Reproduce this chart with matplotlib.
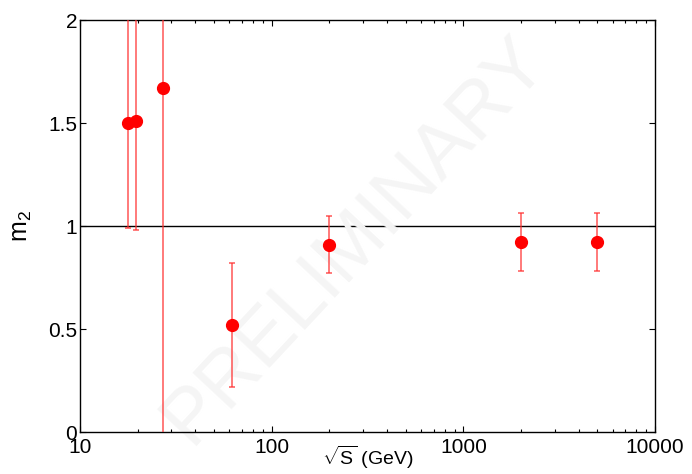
import matplotlib
matplotlib.use("Agg")
import matplotlib.pyplot as plt
import numpy as np

plt.rcParams['font.family'] = ['Liberation Sans', 'DejaVu Sans']
plt.rcParams['mathtext.fontset'] = 'custom'
plt.rcParams['mathtext.rm'] = 'Liberation Sans'
plt.rcParams['mathtext.it'] = 'Liberation Sans'

# collision energies (GeV) and m2 values
sqrt_s = [17.8, 19.7, 27.0, 62.4, 200.0, 2000.0, 5000.0]
m2 = [1.50, 1.51, 1.67, 0.52, 0.91, 0.92, 0.92]
err_low = [0.51, 0.53, 1.80, 0.30, 0.14, 0.14, 0.14]
err_high = [0.70, 0.70, 0.60, 0.30, 0.14, 0.145, 0.145]

fig = plt.figure(figsize=(6.92, 4.74), dpi=100)
ax = fig.add_axes([0.1156, 0.0886, 0.831, 0.8692])

ax.axhline(1.0, color='black', linewidth=1.0, zorder=1)

ax.text(0.478, 0.466, 'PRELIMINARY', transform=ax.transAxes, fontsize=56,
        color='#f5f5f5', rotation=47, ha='center', va='center', zorder=2)

ax.errorbar(sqrt_s, m2, yerr=[err_low, err_high], fmt='none',
            ecolor='#ff3030', alpha=0.75, elinewidth=1.2, capsize=2.5,
            capthick=1.2, zorder=3)
ax.plot(sqrt_s, m2, 'o', color='red', markersize=8.5, zorder=4)

ax.set_xscale('log')
ax.set_xlim(10, 10000)
ax.set_ylim(0, 2)
ax.set_yticks([0, 0.5, 1, 1.5, 2])
ax.set_yticklabels(['0', '0.5', '1', '1.5', '2'])
ax.set_xticks([10, 100, 1000, 10000])
ax.set_xticklabels(['10', '100', '1000', '10000'])

ax.tick_params(which='both', direction='in', top=True, right=True, labelsize=15)
ax.tick_params(which='major', length=4.5, width=0.8, pad=2)
ax.tick_params(which='minor', length=2.5, width=0.8)
ax.tick_params(axis='x', which='major', pad=4)
for sp in ax.spines.values():
    sp.set_linewidth(1.0)

ax.set_xlabel(r'$\sqrt{S}$ (GeV)', fontsize=14)
ax.xaxis.set_label_coords(0.5, -0.028)
ax.set_ylabel(r'm$_2$', fontsize=18, labelpad=10)

fig.savefig('out.png', dpi=100)
